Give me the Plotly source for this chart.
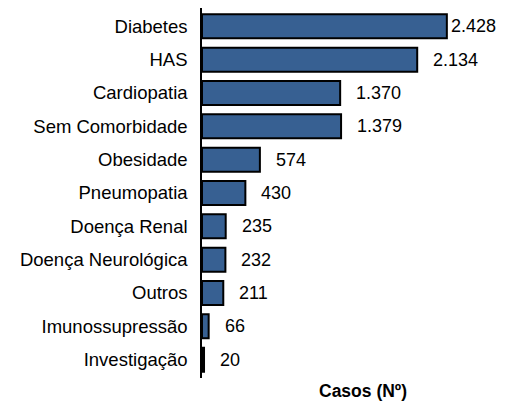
import plotly.graph_objects as go

categories = ["Diabetes", "HAS", "Cardiopatia", "Sem Comorbidade", "Obesidade",
              "Pneumopatia", "Doença Renal", "Doença Neurológica", "Outros",
              "Imunossupressão", "Investigação"]
values = [2428, 2134, 1370, 1379, 574, 430, 235, 232, 211, 66, 20]
labels = ["2.428", "2.134", "1.370", "1.379", "574", "430", "235", "232", "211", "66", "20"]

FONT = "Liberation Sans, Arial, sans-serif"

fig = go.Figure()
fig.add_trace(go.Bar(
    y=categories, x=values, orientation="h",
    marker=dict(color="#376092", line=dict(color="black", width=2)),
    width=0.72, hoverinfo="skip",
))
for c, v, t in zip(categories, values, labels):
    fig.add_annotation(x=v, y=c, text=t, xanchor="left", showarrow=False,
                       xshift=(2 if v > 2400 else 14),
                       font=dict(family=FONT, size=18, color="black"))

fig.add_annotation(x=0.54, y=0, xref="paper", yref="paper", yanchor="middle", yshift=-13,
                   text="<b>Casos (Nº)</b>", showarrow=False,
                   font=dict(family=FONT, size=17.5, color="black"))

fig.update_layout(
    width=503, height=393,
    margin=dict(l=194, r=11, t=0, b=23),
    plot_bgcolor="white", paper_bgcolor="white",
    showlegend=False,
    font=dict(family=FONT, size=18.5, color="black"),
    xaxis=dict(range=[0, 2955], showgrid=False, showticklabels=False, zeroline=False,
               showline=False, ticks=""),
    yaxis=dict(showgrid=False, showline=True, linecolor="black",
               linewidth=1.5, ticks="", ticklabelstandoff=9,
               autorange=False, range=[10.55, -0.55]),
)
fig.write_html("out.html")
